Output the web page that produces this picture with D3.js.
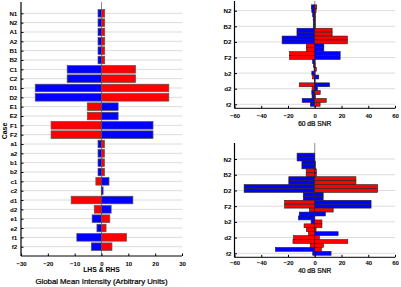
<!DOCTYPE html>
<html><head><meta charset="utf-8">
<script src="https://cdn.jsdelivr.net/npm/d3@7"></script>
<style>
html,body{margin:0;padding:0;background:#fff;}
svg{display:block;font-family:"Liberation Sans",Arial,sans-serif;}
</style></head>
<body>
<svg id="chart" width="401" height="287"></svg>
<script>
// ---- data ----
const cases = ["N1","N2","A1","A2","B1","B2","C1","C2","D1","D2","E1","E2","F1","F2",
               "a1","a2","b1","b2","c1","c2","d1","d2","e1","e2","f1","f2"];
// signed intensities: magnitude = bar length, sign = polarity (negative blue, positive red)
const lhsMean = [-1.3,-1.3,-1.3,-1.3,-1.3,-1.3,-12.8,-12.8,-24.7,-24.7,5.3,5.3,18.8,18.8,
                 -1.3,-1.3,-1.3,-1.3,2.1,-0.1,11.3,2.7,-3.5,-1.7,-9.2,-3.8];
const rhsMean = [1.2,1.2,1.2,1.2,1.2,1.2,12.7,12.7,25.1,25.1,-6.2,-6.2,-19.2,-19.2,
                 1.1,1.1,1.1,1.1,-2.8,-0.6,-11.7,-3.6,3.1,1.7,9.3,3.9];
const lhs60 = [-2.6,-2.2,-1.6,-1.2,-1.1,-1.1,-13.3,-13.3,-24.4,-24.4,6.3,6.3,18.9,18.9,
               -1.6,-1.0,-0.5,-2.2,1.7,-0.3,11.6,2.0,-2.2,-2.0,-9.4,-3.3];
const rhs60 = [1.5,1.0,0.6,0.5,0.5,0.5,13.0,13.0,24.4,24.4,-6.8,-6.8,-19.0,-19.0,
               0.3,0.4,1.2,0.3,-3.0,0.3,-11.1,-2.0,4.1,0.5,8.6,4.0];
const lhs40 = [-13.2,-13.2,-9.6,-9.6,6.4,6.4,-19.4,-19.4,-52.8,-52.8,-8.6,-8.6,22.5,22.5,
               4.0,-11.6,-12.2,-2.7,8.0,6.3,4.7,15.9,16.3,3.4,-29.4,-1.5];
const rhs40 = [0,0,-0.5,-0.5,1.2,1.2,30.8,30.8,47.0,47.0,-6.3,-6.3,-42.1,-42.1,
               13.8,-7.9,0,5.4,5.4,1.0,-17.5,3.5,24.7,6.5,5.0,-12.2];
const meanTicks = [-30,-20,-10,0,10,20,30];
const snrTicks = [-60,-40,-20,0,20,40,60];
const snrCaseTicks = ["N2","B2","D2","F2","b2","d2","f2"];

// ---- drawing ----
const svg = d3.select("#chart");
const color = v => v < 0 ? "#0000ff" : "#ff0000";
const FONT = "Liberation Sans, Arial, sans-serif";

function panel(o) {
  const g = svg.append("g");
  const x = d3.scaleLinear().domain(o.xDomain).range(o.xRange);
  const y = d3.scalePoint().domain(cases).range(o.yRange);
  const x0 = o.xRange[0], x1 = o.xRange[1];
  g.selectAll("line.grid").data(o.gridCases).join("line")
    .attr("x1", x0).attr("x2", x1)
    .attr("y1", d => y(d)).attr("y2", d => y(d))
    .attr("stroke", "#dcdcdc").attr("stroke-width", 1);
  g.append("line").attr("x1", x(0)).attr("x2", x(0))
    .attr("y1", o.top).attr("y2", o.axisY)
    .attr("stroke", "#8c8c8c").attr("stroke-width", 1);
  const rows = cases.map((c, i) => ({c, l: o.lhs[i], r: o.rhs[i]}));
  g.selectAll("rect.l").data(rows.filter(d => d.l !== 0)).join("rect")
    .attr("x", d => x(-Math.abs(d.l))).attr("width", d => x(0) - x(-Math.abs(d.l)))
    .attr("y", d => y(d.c) - o.barH / 2).attr("height", o.barH)
    .attr("fill", d => color(d.l)).attr("stroke", o.stroke).attr("stroke-width", o.sw);
  g.selectAll("rect.r").data(rows.filter(d => d.r !== 0)).join("rect")
    .attr("x", x(0)).attr("width", d => x(Math.abs(d.r)) - x(0))
    .attr("y", d => y(d.c) - o.barH / 2).attr("height", o.barH)
    .attr("fill", d => color(d.r)).attr("stroke", o.stroke).attr("stroke-width", o.sw);
  const xa = g.append("g").attr("transform", `translate(0,${o.axisY})`)
    .call(d3.axisBottom(x).tickValues(o.xTicks).tickSizeInner(-2.5).tickSizeOuter(0).tickPadding(o.xPad));
  xa.select(".domain").remove();
  xa.append("line").attr("x1", x0).attr("x2", x1).attr("stroke", "#000").attr("stroke-width", 1);
  xa.selectAll("text").attr("font-size", 6).attr("font-weight", "bold").attr("fill", "#000")
    .attr("font-family", FONT);
  const ya = g.append("g").attr("transform", `translate(${x0},0)`)
    .call(d3.axisLeft(y).tickValues(o.yTicks).tickSizeInner(-2.5).tickSizeOuter(0).tickPadding(o.yPad));
  ya.select(".domain").remove();
  ya.append("line").attr("y1", o.top).attr("y2", o.axisY).attr("stroke", "#000").attr("stroke-width", 1.2);
  ya.selectAll("text").attr("font-size", 6.2).attr("font-weight", "bold").attr("fill", "#000")
    .attr("font-family", FONT);
  return {x, y};
}

panel({
  lhs: lhsMean, rhs: rhsMean, xDomain: [-30, 30], xRange: [21, 182],
  yRange: [13.3, 246.7], top: 2, axisY: 256, barH: 7.6, stroke: "#555", sw: 0.7,
  xTicks: meanTicks, yTicks: cases, gridCases: cases, yPad: 3.7, xPad: 6
});
panel({
  lhs: lhs60, rhs: rhs60, xDomain: [-60, 60], xRange: [234.5, 395],
  yRange: [6.8, 104.3], top: 1, axisY: 108.3, barH: 3.9, stroke: "#222", sw: 0.6,
  xTicks: snrTicks, yTicks: snrCaseTicks, gridCases: snrCaseTicks, yPad: 3, xPad: 5
});
panel({
  lhs: lhs40, rhs: rhs40, xDomain: [-60, 60], xRange: [234.5, 395],
  yRange: [155.1, 253.3], top: 143, axisY: 257.3, barH: 3.9, stroke: "#222", sw: 0.6,
  xTicks: snrTicks, yTicks: snrCaseTicks, gridCases: snrCaseTicks, yPad: 3, xPad: 3.6
});

function label(x, y, size, bold, txt, rot) {
  const t = svg.append("text").attr("text-anchor", "middle").attr("font-family", FONT)
    .attr("font-size", size).attr("fill", "#000").text(txt);
  if (bold) t.attr("font-weight", "bold");
  else t.attr("stroke", "#000").attr("stroke-width", 0.22);
  if (rot) t.attr("transform", `translate(${x},${y}) rotate(-90)`);
  else t.attr("x", x).attr("y", y);
}
label(101.5, 272.3, 6.8, true, "LHS & RHS");
label(101.5, 283.7, 7.8, false, "Global Mean Intensity (Arbitrary Units)");
label(6.5, 131, 7, true, "Case", true);
label(314.7, 126, 6.6, false, "60 dB SNR");
label(314.7, 272.8, 6.6, false, "40 dB SNR");
</script>
</body></html>
